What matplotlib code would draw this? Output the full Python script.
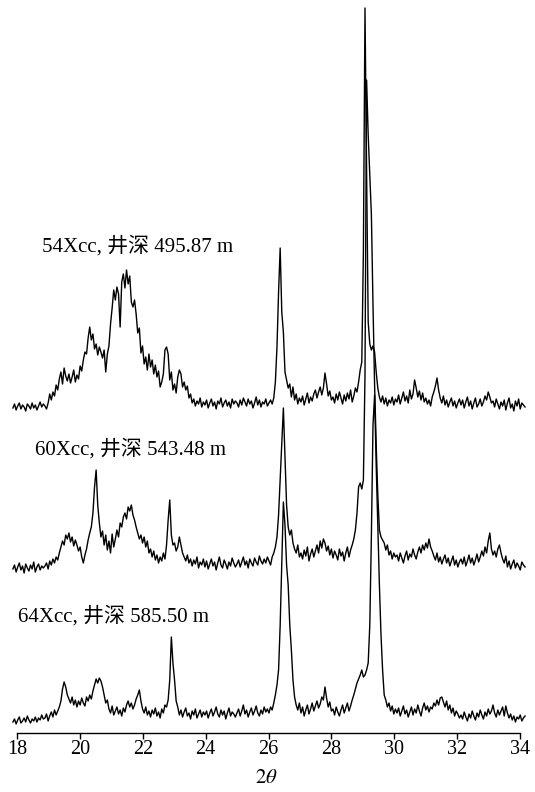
import numpy as np
import matplotlib
matplotlib.use("Agg")
import matplotlib.pyplot as plt

plt.rcParams['font.family'] = ['Liberation Serif', 'Noto Sans CJK SC']
plt.rcParams['mathtext.fontset'] = 'stix'

# 2theta sampling grid (one reading every ~0.05 deg)
two_theta = np.linspace(17.87, 34.16, 321)

# intensities, relative to each trace's own baseline
xrd_54 = [4, 8, 2, 6, 9, 3, 7, 5, 1, 8, 6, 3, 9, 4, 7, 2, 6, 10, 5, 8,
          6, 3, 9, 18, 12, 20, 16, 27, 22, 33, 40, 28, 44, 36, 31, 38, 29, 35, 42, 30,
          37, 33, 46, 41, 52, 60, 58, 74, 85, 72, 78, 63, 68, 57, 65, 60, 54, 62, 40, 58,
          66, 88, 104, 122, 112, 125, 118, 85, 130, 138, 124, 142, 128, 136, 110, 105, 112, 98, 79, 84,
          59, 66, 48, 55, 42, 58, 45, 52, 38, 47, 35, 41, 25, 30, 38, 62, 65, 58, 32, 40,
          22, 28, 19, 35, 42, 38, 25, 30, 22, 26, 14, 18, 9, 13, 6, 11, 8, 14, 5, 10,
          7, 12, 4, 9, 13, 6, 10, 3, 11, 8, 14, 5, 9, 12, 6, 10, 4, 13, 8, 11,
          9, 5, 12, 7, 14, 10, 6, 13, 8, 11, 4, 9, 15, 7, 12, 5, 10, 8, 13, 6,
          9, 12, 8, 14, 30, 65, 120, 164, 100, 80, 40, 32, 24, 28, 15, 25, 12, 18, 8, 14,
          10, 16, 7, 13, 19, 9, 15, 11, 18, 22, 14, 20, 25, 17, 24, 39, 28, 16, 21, 12,
          15, 9, 18, 12, 20, 14, 8, 17, 11, 19, 13, 22, 10, 16, 24, 20, 30, 42, 50, 160,
          404, 240, 90, 68, 62, 66, 60, 40, 24, 15, 10, 16, 8, 14, 6, 12, 9, 15, 7, 13,
          10, 17, 8, 14, 20, 11, 16, 9, 22, 13, 18, 32, 24, 15, 21, 12, 19, 10, 14, 8,
          12, 6, 15, 20, 26, 34, 22, 14, 9, 16, 7, 12, 5, 10, 14, 6, 11, 4, 9, 13,
          7, 12, 4, 10, 15, 6, 11, 3, 9, 14, 5, 8, 13, 6, 10, 16, 12, 20, 15, 9,
          11, 5, 13, 8, 3, 10, 6, 12, 2, 9, 14, 4, 8, 1, 11, 6, 13, 3, 9, 7,
          5]

xrd_60 = [6, 10, 3, 8, 12, 5, 9, 2, 11, 7, 4, 10, 6, 13, 3, 8, 11, 5, 9, 7,
          9, 12, 6, 14, 10, 16, 12, 18, 15, 22, 28, 34, 30, 40, 36, 42, 33, 38, 29, 35,
          30, 24, 28, 18, 12, 20, 26, 35, 42, 48, 62, 88, 105, 70, 52, 38, 44, 30, 40, 25,
          34, 22, 41, 28, 36, 45, 38, 52, 48, 58, 62, 56, 68, 64, 70, 60, 55, 48, 42, 36,
          40, 32, 38, 28, 34, 22, 26, 18, 24, 15, 20, 12, 18, 14, 22, 16, 30, 55, 75, 40,
          30, 32, 24, 28, 38, 30, 22, 18, 14, 20, 12, 16, 9, 15, 11, 18, 7, 13, 10, 16,
          8, 14, 6, 11, 16, 9, 13, 5, 12, 18, 10, 7, 15, 11, 6, 13, 9, 17, 12, 8,
          11, 15, 8, 13, 18, 10, 14, 7, 16, 12, 9, 17, 13, 10, 19, 14, 11, 16, 12, 18,
          14, 10, 18, 22, 28, 38, 60, 95, 130, 167, 120, 70, 48, 40, 45, 32, 26, 22, 30, 18,
          22, 16, 25, 19, 28, 14, 21, 26, 18, 24, 30, 22, 34, 27, 36, 32, 24, 29, 20, 26,
          17, 24, 20, 15, 26, 19, 23, 14, 22, 28, 18, 25, 30, 36, 45, 62, 88, 92, 86, 95,
          200, 495, 440, 400, 360, 270, 190, 130, 80, 45, 38, 35, 32, 25, 30, 20, 24, 16, 22, 18,
          20, 14, 22, 17, 12, 19, 24, 15, 21, 18, 26, 20, 16, 23, 28, 22, 30, 25, 32, 27,
          36, 28, 24, 19, 15, 22, 13, 18, 11, 16, 20, 12, 17, 9, 14, 19, 10, 15, 8, 13,
          16, 11, 18, 9, 14, 20, 12, 17, 10, 15, 21, 13, 18, 24, 19, 28, 22, 34, 42, 26,
          20, 24, 18, 26, 30, 22, 16, 12, 19, 8, 14, 6, 11, 15, 7, 12, 9, 5, 13, 10,
          8]

xrd_64 = [3, 6, 1, 5, 8, 2, 4, 7, 3, 9, 5, 2, 6, 4, 8, 3, 7, 5, 10, 6,
          7, 11, 4, 9, 13, 8, 15, 10, 14, 18, 24, 36, 43, 38, 30, 26, 22, 28, 20, 25,
          18, 24, 20, 27, 22, 19, 28, 24, 30, 26, 34, 40, 46, 42, 47, 44, 38, 30, 22, 25,
          16, 12, 19, 10, 14, 18, 11, 15, 9, 17, 13, 20, 24, 18, 22, 16, 20, 26, 30, 35,
          24, 16, 12, 18, 10, 14, 8, 15, 11, 17, 9, 13, 7, 16, 12, 20, 18, 25, 45, 88,
          62, 45, 24, 18, 10, 15, 8, 13, 17, 9, 12, 6, 14, 10, 16, 7, 11, 15, 8, 13,
          10, 14, 7, 12, 16, 9, 13, 18, 11, 8, 15, 10, 14, 6, 12, 17, 9, 13, 11, 8,
          12, 16, 9, 14, 20, 11, 15, 8, 13, 17, 10, 14, 19, 12, 9, 15, 11, 18, 13, 16,
          12, 18, 15, 22, 30, 40, 55, 100, 160, 223, 200, 160, 140, 100, 75, 45, 28, 20, 15, 22,
          12, 18, 9, 15, 20, 11, 16, 22, 14, 19, 24, 17, 21, 28, 25, 38, 27, 18, 23, 14,
          16, 10, 18, 13, 9, 15, 20, 12, 17, 22, 14, 19, 25, 30, 36, 42, 46, 50, 55, 48,
          50, 55, 62, 100, 190, 300, 330, 260, 200, 140, 90, 55, 30, 25, 18, 22, 14, 19, 11, 16,
          12, 17, 9, 14, 19, 11, 15, 8, 13, 18, 10, 16, 12, 20, 14, 9, 17, 22, 15, 19,
          13, 18, 16, 22, 19, 25, 20, 27, 28, 23, 18, 24, 15, 20, 12, 17, 9, 14, 11, 7,
          10, 6, 13, 8, 4, 11, 7, 14, 9, 5, 12, 8, 15, 10, 6, 13, 9, 16, 11, 14,
          20, 12, 8, 15, 10, 14, 18, 9, 19, 12, 7, 11, 5, 9, 3, 8, 6, 10, 4, 7,
          9]

labels = ["54Xcc, 井深 495.87 m", "60Xcc, 井深 543.48 m", "64Xcc, 井深 585.50 m"]
series = [xrd_54, xrd_60, xrd_64]
offsets = [321, 158, 8]
label_pos = [(18.8, 481), (18.58, 278), (18.03, 111)]

fig = plt.figure(figsize=(5.35, 7.92), dpi=100)
ax = fig.add_axes([17 / 535, 59 / 792, 503 / 535, 733 / 792])

for y, off in zip(series, offsets):
    ax.plot(two_theta, np.array(y) + off, color='black', lw=1.0, clip_on=False)

for lab, (lx, ly) in zip(labels, label_pos):
    ax.text(lx, ly, lab, fontsize=15, ha='left', va='baseline')

ax.set_xlim(18, 34)
ax.set_ylim(0, 733)
ax.set_xticks(range(18, 35, 2))
ax.set_yticks([])
for s in ['left', 'right', 'top']:
    ax.spines[s].set_visible(False)
ax.spines['bottom'].set_linewidth(1.0)
ax.tick_params(axis='x', direction='out', length=4, width=1.0, labelsize=14.5, pad=1)

fig.text(266 / 535, 1 - 783 / 792, r'$2\theta$', fontsize=15, ha='center', va='baseline')

fig.savefig('out.png', dpi=100)
